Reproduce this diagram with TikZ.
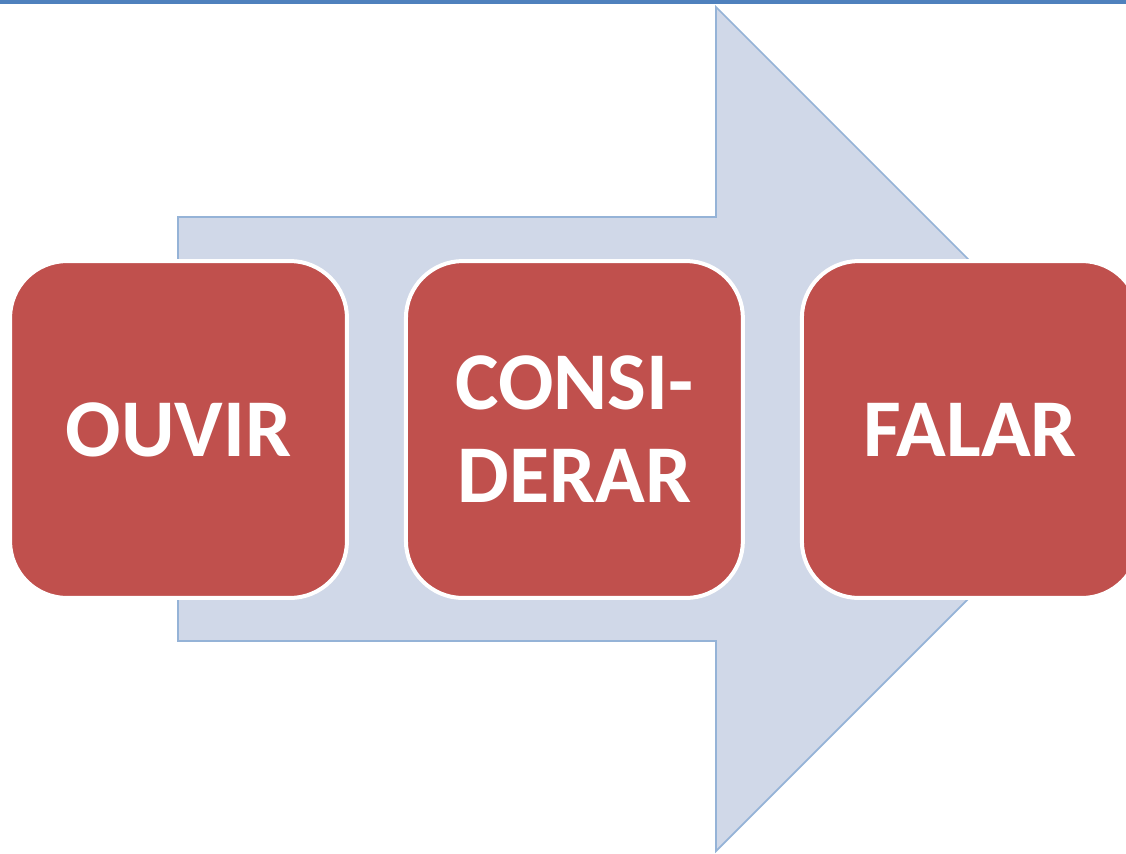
\documentclass[tikz,border=0pt]{standalone}
\usepackage{fontspec}
\newfontfamily\stagefont{Carlito}
\usetikzlibrary{positioning}
\definecolor{Rust}{RGB}{192,80,77}
\definecolor{Pale}{RGB}{208,216,232}
\definecolor{Sky}{RGB}{149,179,215}
\definecolor{Rule}{RGB}{79,129,189}

\begin{document}
\begin{tikzpicture}[x=0.02cm,y=-0.02cm,node distance=1.18cm,
 stage/.style={rounded corners=1.14cm,draw=white,line width=0.08cm,fill=Rust,outer sep=0pt,
  minimum width=6.74cm,minimum height=6.74cm,text=white,align=center,
  font=\stagefont\bfseries\fontsize{46.7}{53}\selectfont},
 flow/.style={draw=Sky,fill=Pale,line width=0.035cm}]
\useasboundingbox (0,0) rectangle (1126,853);
\clip (0,0) rectangle (1126,853);
\fill[Rule] (0,0) rectangle (1126,3.5);
% big arrow behind the boxes
\draw[flow] (178,217) -- (716,217) -- (716,7) -- (1138,429) -- (716,851) -- (716,641) -- (178,641) -- cycle;
\node[stage] (ouvir) at (178.5,429.5) {OUVIR};
\node[stage,right=of ouvir] (considerar) {CONSI-\\DERAR};
\node[stage,right=of considerar] (falar) {FALAR};
\end{tikzpicture}
\end{document}
